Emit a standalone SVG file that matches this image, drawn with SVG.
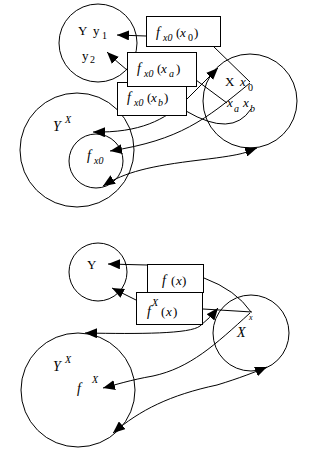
<svg xmlns="http://www.w3.org/2000/svg" width="317" height="452" viewBox="0 0 317 452">
<defs>
<style>
.c{fill:none;stroke:#000;stroke-width:1}
.b{fill:#fff;stroke:#000;stroke-width:1}
.l{fill:none;stroke:#000;stroke-width:1}
.a{marker-end:url(#ah)}
.d{marker-start:url(#ah);marker-end:url(#ah)}
text{font-family:"Liberation Serif","Times New Roman",serif;font-size:13px;fill:#000}
.i{font-style:italic}
.s{font-size:10px}
</style>
<marker id="ah" viewBox="0 0 12 10" refX="12" refY="5" markerWidth="12" markerHeight="10" markerUnits="userSpaceOnUse" orient="auto-start-reverse">
<path d="M0,0 L12,5 L0,10 z" fill="#000"/>
</marker>
</defs>
<rect width="317" height="452" fill="#fff"/>
<g id="connectors">
<path class="l a" d="M146,36 L117,35"/>
<path class="l a" d="M127,70 Q117,62 107,52"/>
<path class="l" d="M213,46 L250,82"/>
<path class="l" d="M196,80 L227,103"/>
<path class="l" d="M251,109 Q232,138 186,111"/>
<path class="l d" d="M93,132 C140,133 165,120 186,100 L218,68"/>
<path class="l a" d="M250,83 C205,120 180,140 110,151"/>
<path class="l d" d="M103,186 C125,172 150,166 200,160 S245,152 257,148"/>
<path class="l a" d="M147,265 L108,264"/>
<path class="l a" d="M136,300 L112,288"/>
<path class="l" d="M204,278 Q236,290 251,312"/>
<path class="l" d="M203,309 L252,312"/>
<path class="l d" d="M85,333 C140,334 190,334 200,326 Q210,318 218,308"/>
<path class="l a" d="M250,313 C215,345 190,368 153,376 C130,380 115,385 103,388"/>
<path class="l d" d="M113,433 C140,410 170,395 217,385 C240,378 255,372 267,367"/>
</g>
<g id="Y-top">
<circle class="c" cx="98" cy="43" r="39"/>
<text x="78" y="35">Y</text>
<text x="93" y="35">y</text><text class="s" x="102" y="39">1</text>
<text x="82" y="60">y</text><text class="s" x="90" y="63">2</text>
</g>
<g id="YX-top">
<circle class="c" cx="77" cy="150" r="57"/>
<text class="i" x="53" y="131" style="font-size:14px">Y</text><text class="i s" x="65" y="123">X</text>
</g>
<g id="fx0-inner">
<circle class="c" cx="96" cy="161" r="27"/>
<text class="i" x="87" y="160" style="font-size:14px">f</text><text class="i s" x="94" y="164">x0</text>
</g>
<g id="X-top">
<circle class="c" cx="250" cy="101" r="47"/>
<text x="225" y="86">X</text>
<text class="i" x="240" y="86">x</text><text class="s" x="248" y="91">0</text>
<text class="i" x="227" y="107">x</text><text class="i s" x="234" y="112">a</text>
<text class="i" x="243" y="107">x</text><text class="i s" x="250" y="112">b</text>
</g>
<g id="box-xb">
<rect class="b" x="117.5" y="82.5" width="69" height="33"/>
<text class="i" x="127" y="102" style="font-size:14px">f</text><text class="i s" x="134" y="106">x0</text><text x="147" y="102">(</text><text class="i" x="151" y="102">x</text><text class="i s" x="158" y="106">b</text><text x="164" y="102">)</text>
</g>
<g id="box-xa">
<rect class="b" x="127.5" y="52.5" width="69" height="34"/>
<text class="i" x="137" y="73" style="font-size:14px">f</text><text class="i s" x="144" y="77">x0</text><text x="157" y="73">(</text><text class="i" x="161" y="73">x</text><text class="i s" x="169" y="77">a</text><text x="176" y="73">)</text>
</g>
<g id="box-x0">
<rect class="b" x="146.5" y="16.5" width="74" height="30"/>
<text class="i" x="156" y="37" style="font-size:14px">f</text><text class="i s" x="163" y="41">x0</text><text x="176" y="37">(</text><text class="i" x="180" y="37">x</text><text class="s" x="188" y="41">0</text><text x="194" y="37">)</text>
</g>
<g id="Y-bottom">
<circle class="c" cx="98" cy="272" r="29"/>
<text x="87" y="269">Y</text>
</g>
<g id="X-bottom">
<circle class="c" cx="251" cy="333" r="38"/>
<text class="i" x="237" y="337" style="font-size:14px">X</text>
<text class="i" x="249" y="320" style="font-size:8px">x</text>
</g>
<g id="YX-bottom">
<circle class="c" cx="78" cy="390" r="57"/>
<text class="i" x="53" y="371" style="font-size:14px">Y</text><text class="i s" x="65" y="363">X</text>
<text class="i" x="77" y="393" style="font-size:14px">f</text><text class="i s" x="92" y="383">X</text>
</g>
<g id="box-fx">
<rect class="b" x="147.5" y="264.5" width="56" height="28"/>
<text class="i" x="162" y="285" style="font-size:14px">f</text><text x="171" y="285">(</text><text class="i" x="176" y="285">x</text><text x="182" y="285">)</text>
</g>
<g id="box-fXx">
<rect class="b" x="136.5" y="292.5" width="66" height="32"/>
<text class="i" x="147" y="316" style="font-size:14px">f</text><text class="i s" x="152" y="306">X</text><text x="161" y="316">(</text><text class="i" x="166" y="316">x</text><text x="173" y="316">)</text>
</g>
</svg>
